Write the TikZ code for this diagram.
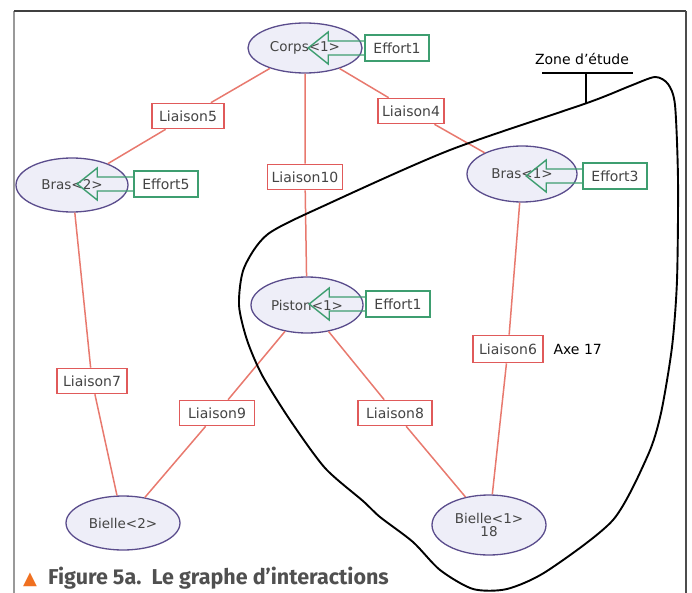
\documentclass[tikz,border=0pt]{standalone}
\usepackage{fontspec}
\setmainfont{DejaVu Sans}
\newfontfamily\capfont{Fira Sans}
\usetikzlibrary{shapes.geometric}
\definecolor{ellline}{HTML}{5A4C8C}
\definecolor{ellfill}{HTML}{EEEEF8}
\definecolor{liaisred}{HTML}{E05A5A}
\definecolor{linkred}{HTML}{E8796E}
\definecolor{effgreen}{HTML}{3E9E70}
\definecolor{txtgray}{HTML}{444444}
\definecolor{capgray}{HTML}{505050}
\definecolor{caporange}{HTML}{F07020}
\tikzset{
  solid/.style={ellipse, draw=ellline, fill=ellfill, line width=1.3pt, inner sep=0pt,
    text=txtgray, font=\fontsize{13.5}{15}\selectfont, align=center},
  liais/.style={rectangle, draw=liaisred, fill=white, line width=1.6pt, inner sep=0pt,
    minimum width=72pt, minimum height=25pt, text=txtgray, font=\fontsize{14}{16}\selectfont},
  effbox/.style={rectangle, draw=effgreen, fill=white, line width=1.6pt, inner sep=0pt,
    minimum width=64pt, minimum height=26pt, text=txtgray, font=\fontsize{14}{16}\selectfont},
  link/.style={draw=linkred, line width=1.5pt},
  effarr/.style={draw=effgreen, line width=1.4pt, line join=miter},
  zone/.style={draw=black, line width=1.9pt},
  frame/.style={line width=1.6pt}
}
\newcommand\effarrow[1]{\draw[effarr] (#1.west) ++(0,7) -- ++(-36,0) -- ++(0,9) -- ++(-20,-16) -- ++(20,-16) -- ++(0,9) -- ++(36,0);}
\begin{document}
\begin{tikzpicture}[x=1pt,y=-1pt]
\useasboundingbox (0,0) rectangle (692,593);
% frame
\draw[frame, draw=gray!80] (14,11) -- (14,593);
\draw[frame, draw=black!75] (14,11) -- (686,11);
\draw[frame, draw=black!70] (686,11) -- (686,593);
% solids
\node[solid, minimum width=114pt, minimum height=50pt] (corps) at (305,48) {Corps<1>};
\node[solid, minimum width=112pt, minimum height=54pt] (bras2) at (72,185) {Bras<2>};
\node[solid, minimum width=110pt, minimum height=56pt] (bras1) at (522,174) {Bras<1>};
\node[solid, minimum width=112pt, minimum height=56pt] (piston) at (307,305) {Piston<1>};
\node[solid, minimum width=114pt, minimum height=54pt] (bielle2) at (123,523) {Bielle<2>};
\node[solid, minimum width=114pt, minimum height=60pt] (bielle1) at (489,525) {Bielle<1>\\[-2pt]18};
% liaisons
\node[liais] (l5) at (188,116) {Liaison5};
\node[liais, minimum width=66pt] (l4) at (411,111) {Liaison4};
\node[liais, minimum width=75pt] (l10) at (305,177) {Liaison10};
\node[liais, minimum width=70pt] (l7) at (92,381) {Liaison7};
\node[liais, minimum width=70pt, minimum height=27pt] (l6) at (508,349) {Liaison6};
\node[liais, minimum width=75pt] (l9) at (217,413) {Liaison9};
\node[liais, minimum width=74pt] (l8) at (395,413) {Liaison8};
% links
\draw[link] (corps) -- (l5) -- (bras2);
\draw[link] (corps) -- (l10) -- (piston);
\draw[link] (corps) -- (l4) -- (bras1);
\draw[link] (bras2) -- (l7) -- (bielle2);
\draw[link] (piston) -- (l9) -- (bielle2);
\draw[link] (piston) -- (l8) -- (bielle1);
\draw[link] (bras1) -- (l6) -- (bielle1);
% efforts
\node[effbox] (e1) at (397,48) {Effort1};
\node[effbox] (e5) at (166,184) {Effort5};
\node[effbox] (e3) at (615,176) {Effort3};
\node[effbox] (e1b) at (398,304) {Effort1};
\effarrow{e1}
\effarrow{e5}
\effarrow{e3}
\effarrow{e1b}
% axe label
\node[font=\fontsize{14}{16}\selectfont, anchor=west] (axe) at (550,349) {Axe 17};
% zone d'etude
\draw[zone] plot[smooth cycle, tension=0.45] coordinates {
  (655,77) (630,86) (587,103) (450,150) (330,203) (268,234) (244,268) (239,305)
  (247,340) (262,375) (290,420) (325,468) (363,501) (380,517) (413,542) (440,570)
  (473,589) (507,589) (547,571) (613,520) (648,455) (661,413) (672,347) (677,280)
  (678,180) (675,105) (668,84)};
\node[font=\fontsize{14}{16}\selectfont, anchor=base] (zlabel) at (582,65) {Zone d'étude};
\coordinate (zl) at (542,73);
\coordinate (zr) at (633,73);
\coordinate (zt) at (586,73);
\coordinate (zb) at (586,103);
\draw[line width=1.8pt] (zl) -- (zr);
\draw[line width=1.8pt] (zt) -- (zb);
% caption
\node[text=caporange, font=\fontsize{18}{20}\selectfont, anchor=base] (tri) at (30,584) {▲};
\node[text=capgray, font=\capfont\bfseries\fontsize{21.5}{24}\selectfont, anchor=base west, inner sep=0pt] (cap) at (48,584) {Figure 5a.\ \ Le graphe d’interactions};
\end{tikzpicture}
\end{document}
